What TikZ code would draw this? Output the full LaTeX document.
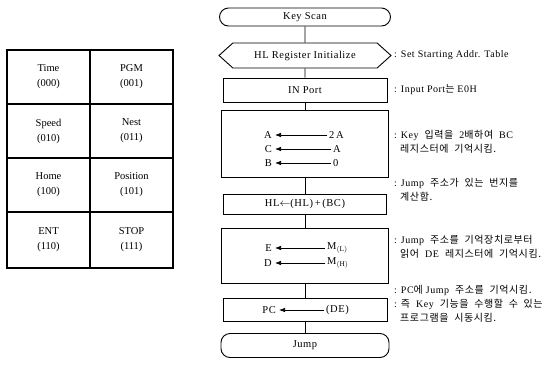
\documentclass[tikz,border=0pt]{standalone}
\usepackage{fontspec}
\setmainfont{Liberation Serif}
\newfontfamily\hgl[LetterSpace=6]{Noto Sans CJK KR}
\newfontfamily\wideserif[LetterSpace=5]{Liberation Serif}
\usetikzlibrary{arrows.meta,shapes.symbols}
\begin{document}
\begin{tikzpicture}[x=1pt,y=-1pt,
  cell/.style={draw,line width=1.1pt,minimum width=83pt,minimum height=54pt,inner sep=0pt,align=center,font=\fontsize{10.5}{15}\selectfont},
  flow/.style={draw,line width=0.9pt,inner sep=0pt,font=\wideserif\fontsize{10.5}{12}\selectfont},
  term/.style={flow,rounded corners=9pt},
  prep/.style={flow,signal,signal to=west and east,signal pointer angle=84},
  txt/.style={inner sep=0pt,font=\wideserif\fontsize{10.5}{12}\selectfont},
  note/.style={inner sep=0pt,anchor=west,align=left,font=\wideserif\fontsize{10}{14}\selectfont},
  conn/.style={line width=0.9pt},
  arr/.style={line width=0.7pt,shorten >=3pt,shorten <=2pt,-{Latex[length=6pt,width=4.5pt]}}]
\useasboundingbox (0,0) rectangle (550,365);
% table
\node[cell] (c1) at (48.5,77) {Time\\(000)};
\node[cell] (c2) at (131.5,77) {PGM\\(001)};
\node[cell] (c3) at (48.5,131) {Speed\\(010)};
\node[cell] (c4) at (131.5,131) {Nest\\(011)};
\node[cell] (c5) at (48.5,185) {Home\\(100)};
\node[cell] (c6) at (131.5,185) {Position\\(101)};
\node[cell,minimum height=56pt] (c7) at (48.5,240) {ENT\\(110)};
\node[cell,minimum height=56pt] (c8) at (131.5,240) {STOP\\(111)};
% flowchart
\node[term,minimum width=171pt,minimum height=18pt] (ks) at (305,17) {Key Scan};
\node[prep,minimum width=172pt,minimum height=25pt] (hex) at (305,55.5) {HL Register Initialize};
\node[flow,minimum width=164pt,minimum height=24pt] (inp) at (305,90) {IN Port};
\node[flow,minimum width=167pt,minimum height=67pt] (abc) at (305,143.5) {};
\node[flow,minimum width=163pt,minimum height=20pt] (hl) at (305,204) {HL$\leftarrow$(HL)\,+\,(BC)};
\node[flow,minimum width=167pt,minimum height=55pt] (ed) at (305,255.5) {};
\node[flow,minimum width=164pt,minimum height=23pt] (pc) at (305,309.5) {};
\node[term,minimum width=168pt,minimum height=24pt] (jmp) at (305,345.5) {Jump};
\draw[conn] (ks) -- (hex);
\draw[conn] (hex) -- (inp);
\draw[conn] (inp) -- (abc);
\draw[conn] (abc) -- (hl);
\draw[conn] (hl) -- (ed);
\draw[conn] (ed) -- (pc);
\draw[conn] (pc) -- (jmp);
% register transfers
\node[txt,anchor=east] (ra) at (272,135) {A};
\node[txt,anchor=west] (sa) at (329,135) {2\,A};
\node[txt,anchor=east] (rc) at (272,149) {C};
\node[txt,anchor=west] (sc) at (333,149) {A};
\node[txt,anchor=east] (rb) at (272,163) {B};
\node[txt,anchor=west] (sb) at (333,163) {0};
\draw[arr] (sa) -- (ra);
\draw[arr] (sc) -- (rc);
\draw[arr] (sb) -- (rb);
\node[txt,anchor=east] (re) at (272,248) {E};
\node[txt,anchor=west] (se) at (327,248) {M$_{\rm (L)}$};
\node[txt,anchor=east] (rd) at (272,263) {D};
\node[txt,anchor=west] (sd) at (327,263) {M$_{\rm (H)}$};
\draw[arr] (se) -- (re);
\draw[arr] (sd) -- (rd);
\node[txt,anchor=east] (rpc) at (276,310) {PC};
\node[txt,anchor=west] (spc) at (326,310) {(DE)};
\draw[arr] (spc) -- (rpc);
% notes
\node[note] (n1) at (394,55) {: Set Starting Addr. Table};
\node[note] (n2) at (394,90) {: Input Port{\hgl 는} E0H};
\node[note] (n3) at (394,142) {: Key\ \ {\hgl 입력을} \ 2{\hgl 배하여} \ BC\\\ \ {\hgl 레지스터에 \ 기억시킴.}};
\node[note] (n4) at (394,190) {: Jump \ {\hgl 주소가 \ 있는 \ 번지를}\\\ \ {\hgl 계산함.}};
\node[note] (n5) at (394,247) {: Jump \ {\hgl 주소를 \ 기억장치로부터}\\\ \ {\hgl 읽어} \ DE \ {\hgl 레지스터에 \ 기억시킴.}};
\node[note] (n6) at (394,304) {: PC{\hgl 에} Jump \ {\hgl 주소를 \ 기억시킴.}\\: {\hgl 즉} \ Key \ {\hgl 기능을 \ 수행할 \ 수 \ 있는}\\\ \ {\hgl 프로그램을 \ 시동시킴.}};
\end{tikzpicture}
\end{document}
